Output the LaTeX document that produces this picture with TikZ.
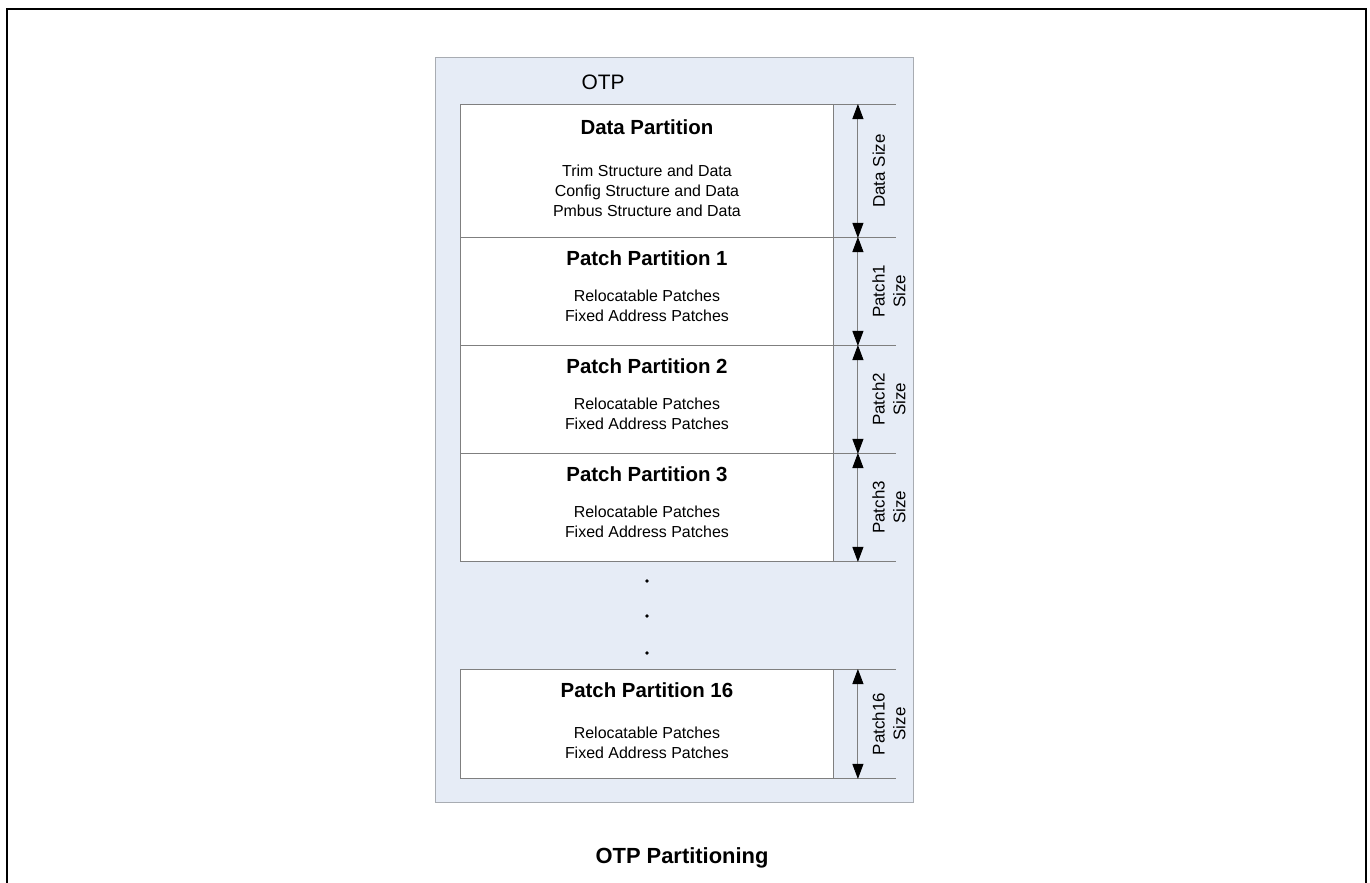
\documentclass[tikz,border=0pt]{standalone}
\usepackage{fontspec}
\setmainfont{Liberation Sans}
\usepackage{tikz}
\usetikzlibrary{arrows.meta, positioning}
\definecolor{otpfill}{HTML}{E6ECF6}
\definecolor{otpedge}{HTML}{A8ACB2}
\definecolor{partedge}{HTML}{7F7F7F}

\tikzset{
  otpbox/.style={draw=otpedge, fill=otpfill, line width=1.2bp, anchor=north west, inner sep=0pt},
  partbox/.style={draw=partedge, fill=white, line width=0.9bp, anchor=north west, inner sep=0pt, minimum width=373bp},
  parttitle/.style={font=\fontsize{20.5}{24}\selectfont\bfseries},
  partbody/.style={font=\fontsize{16}{20.5}\selectfont, align=center},
  extline/.style={draw=partedge, line width=0.9bp},
  sizearrow/.style={draw=partedge, line width=0.9bp, {Triangle[length=15bp,width=11bp,black]}-{Triangle[length=15bp,width=11bp,black]}},
  sizelabel/.style={rotate=90, align=center, font=\fontsize{17}{21}\selectfont},
}

\begin{document}
\begin{tikzpicture}[x=1bp, y=-1bp]
  \useasboundingbox (0,0) rectangle (1370,882);
  % page frame
  \draw[line width=2.4bp] (7,884) -- (7,9) -- (1366,9) -- (1366,884);

  % OTP region
  \node[otpbox, minimum width=478bp, minimum height=745bp] (otp) at (435,57) {};
  \node[font=\fontsize{21}{24}\selectfont] (otplabel) at (603,82) {OTP};

  % partitions
  \node[partbox, minimum height=133bp] (data) at (460,104) {};
  \node[partbox, minimum height=108bp] (p1) at (460,237) {};
  \node[partbox, minimum height=108bp] (p2) at (460,345) {};
  \node[partbox, minimum height=108bp] (p3) at (460,453) {};
  \node[partbox, minimum height=109bp] (p16) at (460,669) {};

  \node[parttitle, below=12bp of data.north] (datatitle) {Data Partition};
  \node[partbody, below=23bp of datatitle] (databody) {Trim Structure and Data\\Config Structure and Data\\Pmbus Structure and Data};

  \foreach \p/\n/\gap in {p1/1/17, p2/2/17, p3/3/17, p16/16/22} {
    \node[parttitle, below=10bp of \p.north] (\p title) {Patch Partition \n};
    \node[partbody, below=\gap bp of \p title] (\p body) {Relocatable Patches\\Fixed Address Patches};
  }

  % dots between partitions
  \foreach \y in {581, 616, 653}
    \fill (647,\y) circle (1.8bp);

  % extension lines to the right
  \foreach \p in {data, p1, p2, p3, p16}
    \draw[extline] (\p.north east) -- ++(62,0);
  \foreach \p in {p3, p16}
    \draw[extline] (\p.south east) -- ++(62,0);

  % size arrows
  \draw[sizearrow] ([xshift=24bp]data.north east) -- ([xshift=24bp]data.south east)
    node[midway, xshift=21bp, sizelabel] (datasize) {Data Size};
  \foreach \p/\n in {p1/1, p2/2, p3/3, p16/16}
    \draw[sizearrow] ([xshift=24bp]\p.north east) -- ([xshift=24bp]\p.south east)
      node[midway, xshift=31bp, sizelabel] (\p size) {Patch\n\\Size};

  % caption
  \node[font=\fontsize{22}{26}\selectfont\bfseries] (caption) at (682,858) {OTP Partitioning};
\end{tikzpicture}
\end{document}
